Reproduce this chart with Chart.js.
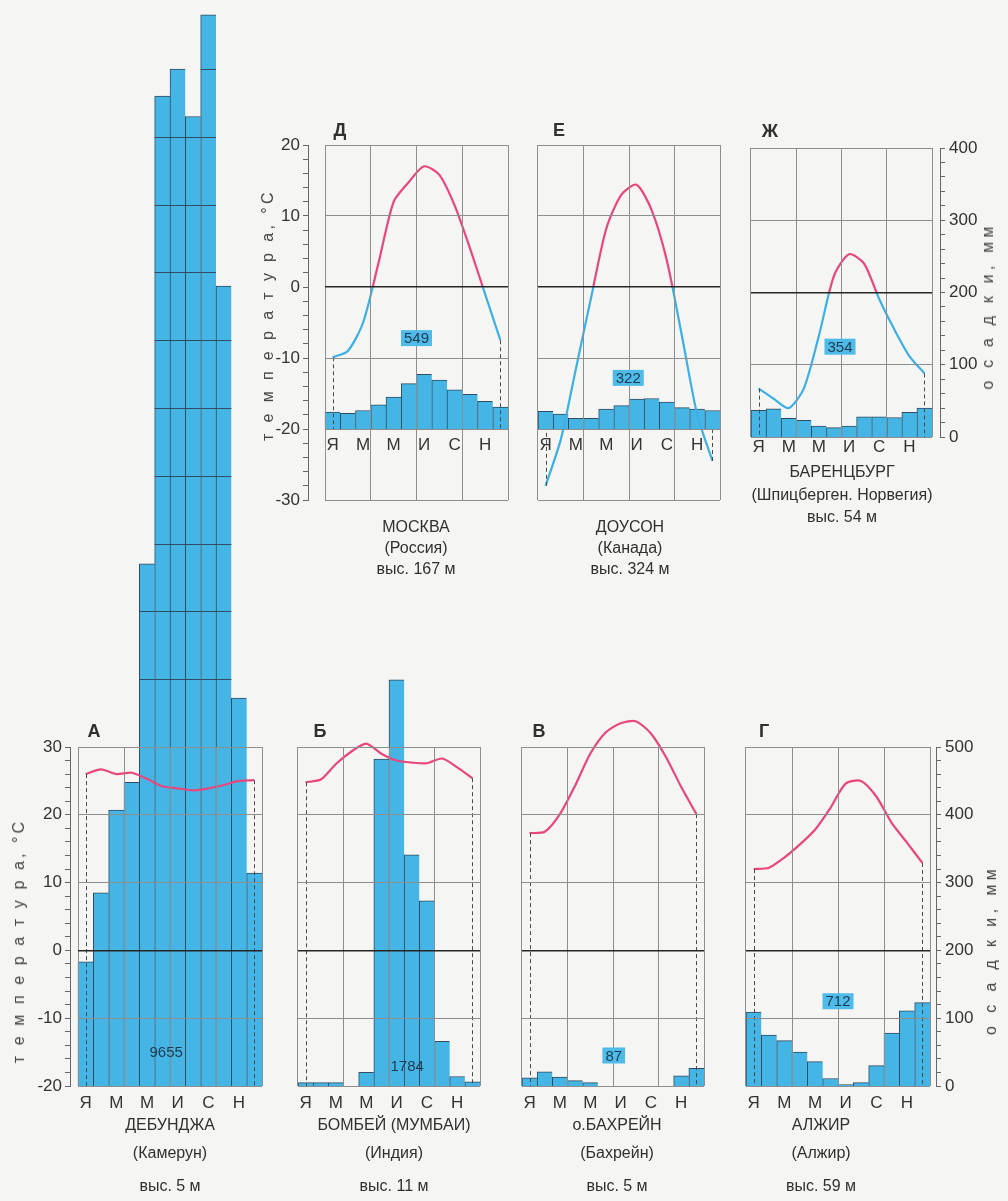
<!DOCTYPE html>
<html lang="ru">
<head>
<meta charset="utf-8">
<title>Климатограммы</title>
<script src="https://cdn.jsdelivr.net/npm/chart.js@4.4.1/dist/chart.umd.min.js"></script>
<style>
  html, body { margin: 0; padding: 0; }
  body { width: 1008px; height: 1201px; background: #f5f5f3; position: relative; overflow: hidden;
         font-family: "Liberation Sans", Arial, sans-serif; color: #303030; }
  canvas { position: absolute; }
  .txt { position: absolute; transform: translate(-50%, -50%); white-space: nowrap; font-size: 16px; line-height: 1; }
  .letter { font-weight: bold; font-size: 18px; }
  .vtitle { position: absolute; transform: translate(-50%, -50%) rotate(-90deg); white-space: nowrap;
            font-size: 16px; line-height: 1; color: #444; }
</style>
</head>
<body>
<script>
// months (only every other one is printed under the axis)
const months = ['Я', 'Ф', 'М', 'А', 'М', 'И', 'И', 'А', 'С', 'О', 'Н', 'Д'];

// mean monthly temperature, °C and precipitation, mm
const moscowTemp = [-9.9, -9.0, -5.0, 3.3, 12.0, 14.8, 17.0, 15.8, 11.5, 5.5, -1.0, -7.5];
const moscowPrecip = [24, 22, 26, 34, 45, 64, 77, 69, 55, 49, 39, 31];
const dawsonTemp = [-28, -21.5, -11.5, -1.5, 8.2, 13, 14.4, 10.8, 3.7, -7, -18, -24.5];
const dawsonPrecip = [25, 21, 15, 15, 28, 33, 42, 43, 38, 30, 28, 26];
const barentsburgTemp = [-13.3, -14.7, -16, -13.3, -6, 2.3, 5.3, 4.0, -0.9, -5.1, -8.8, -11.2];
const barentsburgPrecip = [37, 39, 26, 23, 15, 13, 15, 28, 28, 27, 34, 40];
const debundschaTemp = [26.0, 26.7, 26.0, 26.2, 25.3, 24.2, 23.9, 23.6, 23.9, 24.4, 25.0, 25.1];
const debundschaPrecip = [183, 285, 407, 448, 770, 1460, 1500, 1430, 1580, 1180, 572, 314];
const bombayTemp = [24.8, 25.2, 27.5, 29.3, 30.5, 29.0, 28.0, 27.7, 27.6, 28.3, 27.0, 25.4];
const bombayPrecip = [5, 5, 5, 0, 20, 482, 599, 341, 273, 66, 14, 6];
const bahrainTemp = [17.3, 17.5, 20.1, 24.3, 29.0, 32.1, 33.5, 33.8, 32.0, 28.5, 24.1, 20.1];
const bahrainPrecip = [12, 21, 13, 8, 5, 0, 0, 0, 0, 0, 15, 26];
const algiersTemp = [12.0, 12.2, 13.7, 15.6, 17.8, 21.0, 24.6, 25.0, 22.7, 18.8, 15.9, 12.9];
const algiersPrecip = [109, 75, 67, 50, 36, 11, 2, 5, 30, 78, 111, 123];

// yearly totals, mm
const totals = { moscow: '549', dawson: '322', barentsburg: '354', debundscha: '9655', bombay: '1784', bahrain: '87', algiers: '712' };

const gridColor = '#8e8e8e';
const zeroColor = '#262626';
const axisColor = '#666';
const textColor = '#333';
const barFill = '#45b5e5';
const barEdge = '#2e4d60';
const warm = '#e8467c';
const cold = '#3cb0e4';
const tickFont = { family: '"Liberation Sans", Arial, sans-serif', size: 17 };

const stations = [
  { key: 'moscow', letter: 'Д', temp: moscowTemp, precip: moscowPrecip, at: 5.5, t: -7.2, box: true,
    plot: { l: 325, t: 145, r: 508, b: 500 }, tMin: -30, tMax: 20, left: true, gap: 17, over: 15, labelPad: 6,
    caption: ['МОСКВА', '(Россия)', 'выс. 167 м'], capX: 416, capY: [527, 548, 569], letterPos: [340, 130] },
  { key: 'dawson', letter: 'Е', temp: dawsonTemp, precip: dawsonPrecip, at: 5.45, t: -12.8, box: true,
    plot: { l: 538, t: 145, r: 720, b: 500 }, tMin: -30, tMax: 20, over: 15, labelPad: 6,
    caption: ['ДОУСОН', '(Канада)', 'выс. 324 м'], capX: 630, capY: [527, 548, 569], letterPos: [559, 130] },
  { key: 'barentsburg', letter: 'Ж', temp: barentsburgTemp, precip: barentsburgPrecip, at: 5.4, t: -7.5, box: true,
    plot: { l: 751, t: 148, r: 932, b: 437 }, tMin: -20, tMax: 20, right: true, gap: 8, over: 15, labelPad: 0,
    caption: ['БАРЕНЦБУРГ', '(Шпицберген. Норвегия)', 'выс. 54 м'], capX: 842, capY: [472, 495, 517], letterPos: [770, 131] },
  { key: 'debundscha', letter: 'А', temp: debundschaTemp, precip: debundschaPrecip, at: 5.25, t: -15, box: false,
    plot: { l: 78, t: 747, r: 262, b: 1086 }, tMin: -20, tMax: 30, left: true, gap: 8, over: 747, labelPad: 7,
    caption: ['ДЕБУНДЖА', '(Камерун)', 'выс. 5 м'], capX: 170, capY: [1125, 1153, 1186], letterPos: [94, 731] },
  { key: 'bombay', letter: 'Б', temp: bombayTemp, precip: bombayPrecip, at: 6.7, t: -17.1, box: false,
    plot: { l: 298, t: 747, r: 480, b: 1086 }, tMin: -20, tMax: 30, over: 100, labelPad: 7,
    caption: ['БОМБЕЙ (МУМБАИ)', '(Индия)', 'выс. 11 м'], capX: 394, capY: [1125, 1153, 1186], letterPos: [320, 731] },
  { key: 'bahrain', letter: 'В', temp: bahrainTemp, precip: bahrainPrecip, at: 5.55, t: -15.5, box: true,
    plot: { l: 522, t: 747, r: 704, b: 1086 }, tMin: -20, tMax: 30, over: 100, labelPad: 7,
    caption: ['о.БАХРЕЙН', '(Бахрейн)', 'выс. 5 м'], capX: 617, capY: [1125, 1153, 1186], letterPos: [539, 731] },
  { key: 'algiers', letter: 'Г', temp: algiersTemp, precip: algiersPrecip, at: 5.5, t: -7.5, box: true,
    plot: { l: 746, t: 747, r: 930, b: 1086 }, tMin: -20, tMax: 30, right: true, gap: 6, over: 30, labelPad: 7,
    caption: ['АЛЖИР', '(Алжир)', 'выс. 59 м'], capX: 821, capY: [1125, 1153, 1186], letterPos: [764, 731] }
];

// red above 0 °C, blue below
function tempColor(ctx) {
  const chart = ctx.chart;
  const area = chart.chartArea;
  if (!area) return warm;
  const y0 = chart.scales.y.getPixelForValue(0);
  const g = chart.ctx.createLinearGradient(0, area.top, 0, area.bottom);
  const s = Math.min(Math.max((y0 - area.top) / (area.bottom - area.top), 0), 1);
  g.addColorStop(0, warm);
  g.addColorStop(s, warm);
  g.addColorStop(s, cold);
  g.addColorStop(1, cold);
  return g;
}

// dashed verticals under January and December
const edgeDashes = {
  id: 'edgeDashes',
  afterDatasetsDraw(chart) {
    const { ctx, scales } = chart;
    const temps = chart.data.datasets[1].data;
    ctx.save();
    ctx.strokeStyle = '#4a4a4a';
    ctx.lineWidth = 1;
    ctx.setLineDash([4, 3]);
    [0, temps.length - 1].forEach(i => {
      const x = Math.round(scales.x.getPixelForValue(i)) + 0.5;
      ctx.beginPath();
      ctx.moveTo(x, scales.y.getPixelForValue(temps[i]));
      ctx.lineTo(x, scales.yp.getPixelForValue(0));
      ctx.stroke();
    });
    ctx.restore();
  }
};

// 100 mm marks on bars that rise above the frame
const overflowLines = {
  id: 'overflowLines',
  afterDatasetsDraw(chart) {
    const { ctx, scales } = chart;
    const yp = scales.yp;
    const vals = chart.data.datasets[0].data;
    ctx.save();
    ctx.strokeStyle = barEdge;
    ctx.lineWidth = 1;
    chart.getDatasetMeta(0).data.forEach((bar, i) => {
      for (let v = yp.max + 100; v < vals[i]; v += 100) {
        const y = Math.round(yp.getPixelForValue(v)) + 0.5;
        ctx.beginPath();
        ctx.moveTo(bar.x - bar.width / 2, y);
        ctx.lineTo(bar.x + bar.width / 2, y);
        ctx.stroke();
      }
    });
    ctx.restore();
  }
};

const totalLabel = {
  id: 'totalLabel',
  afterDraw(chart, args, opts) {
    if (!opts.text) return;
    const { ctx, scales } = chart;
    const x = scales.x.getPixelForValue(opts.at);
    const y = scales.y.getPixelForValue(opts.t);
    ctx.save();
    ctx.font = '15px "Liberation Sans", Arial, sans-serif';
    const w = ctx.measureText(opts.text).width + 6;
    if (opts.box) {
      ctx.fillStyle = '#4fbbe8';
      ctx.fillRect(x - w / 2, y - 8, w, 16);
    }
    ctx.fillStyle = '#1e3a52';
    ctx.textAlign = 'center';
    ctx.textBaseline = 'middle';
    ctx.fillText(opts.text, x, y + 1);
    ctx.restore();
  }
};

function addText(cls, text, x, y) {
  const d = document.createElement('div');
  d.className = cls;
  d.textContent = text;
  d.style.left = x + 'px';
  d.style.top = y + 'px';
  document.body.appendChild(d);
  return d;
}

stations.forEach(st => {
  const p = st.plot;
  const gapL = st.left ? st.gap : 0;
  const gapR = st.right ? st.gap : 0;
  const tickL = st.left ? 40 : 0;
  const tickR = st.right ? 50 : 0;
  const pad = { left: 10, right: 10, top: st.over, bottom: 40 };
  const left = p.l - gapL - tickL - pad.left;
  const top = p.t - pad.top;
  const cv = document.createElement('canvas');
  cv.width = p.r + gapR + tickR + pad.right - left;
  cv.height = p.b + pad.bottom - top;
  cv.style.left = left + 'px';
  cv.style.top = top + 'px';
  document.body.appendChild(cv);

  // precipitation scale: 0 mm at -20 °C, 100 mm per 10 °C
  const pMin = (st.tMin + 20) * 10;
  const pMax = (st.tMax + 20) * 10;

  new Chart(cv, {
    type: 'bar',
    data: {
      labels: months,
      datasets: [
        { type: 'bar', data: st.precip, yAxisID: 'yp', backgroundColor: barFill, borderColor: barEdge,
          borderWidth: { top: 1, left: 1, right: 0, bottom: 0 }, borderSkipped: false,
          categoryPercentage: 1, barPercentage: 1, clip: false, order: 2 },
        { type: 'line', data: st.temp, yAxisID: 'y', borderColor: tempColor, borderWidth: 2.2,
          pointRadius: 0, tension: 0.25, clip: false, order: 1 }
      ]
    },
    options: {
      responsive: false,
      animation: false,
      events: [],
      layout: { padding: pad },
      plugins: {
        legend: { display: false },
        tooltip: { enabled: false },
        totalLabel: { text: totals[st.key], at: st.at, t: st.t, box: st.box }
      },
      scales: {
        x: {
          type: 'category',
          position: { y: -20 },
          offset: true,
          afterFit: s => { s.height = 0; },
          grid: { offset: true, z: 1, drawTicks: false, lineWidth: 1,
                  color: c => (c.index === undefined || c.index % 3 === 0) ? gridColor : 'rgba(0,0,0,0)' },
          border: { display: false },
          ticks: { autoSkip: false, maxRotation: 0, padding: st.labelPad, color: textColor, font: tickFont,
                   callback: (v, i) => (i % 2 === 0 ? months[i] : '') }
        },
        y: {
          type: 'linear', position: 'left', weight: 0, min: st.tMin, max: st.tMax,
          afterFit: s => { s.width = gapL; },
          ticks: { display: false, stepSize: 10 },
          grid: { z: 1, drawTicks: false,
                  color: c => (c.tick && c.tick.value === 0 ? zeroColor : gridColor),
                  lineWidth: c => (c.tick && c.tick.value === 0 ? 1.6 : 1) },
          border: { display: false }
        },
        yt: {
          display: !!st.left, axis: 'y', type: 'linear', position: 'left', weight: 1, min: st.tMin, max: st.tMax,
          afterFit: s => { if (st.left) s.width = tickL; },
          ticks: { stepSize: 2, autoSkip: false, padding: 3, color: textColor, font: tickFont,
                   callback: v => (v % 10 === 0 ? v : '') },
          grid: { drawOnChartArea: false, tickLength: 5, color: axisColor },
          border: { display: true, color: axisColor }
        },
        yp: { display: false, axis: 'y', type: 'linear', position: 'right', min: pMin, max: pMax },
        yps: {
          display: !!st.right, axis: 'y', type: 'linear', position: 'right', weight: 0, min: pMin, max: pMax,
          afterFit: s => { if (st.right) s.width = gapR; },
          ticks: { display: false }, grid: { display: false }, border: { display: false }
        },
        ypt: {
          display: !!st.right, axis: 'y', type: 'linear', position: 'right', weight: 1, min: pMin, max: pMax,
          afterFit: s => { if (st.right) s.width = tickR; },
          ticks: { stepSize: 20, autoSkip: false, padding: 4, color: textColor, font: tickFont,
                   callback: v => (v % 100 === 0 ? v : '') },
          grid: { drawOnChartArea: false, tickLength: 5, color: axisColor },
          border: { display: true, color: axisColor }
        }
      }
    },
    plugins: [edgeDashes, overflowLines, totalLabel]
  });

  addText('txt letter', st.letter, st.letterPos[0], st.letterPos[1]);
  st.caption.forEach((line, i) => addText('txt', line, st.capX, st.capY[i]));
});

// axis titles
const tempTitle = 'т е м п е р а т у р а, °С';
const precTitle = 'о с а д к и, мм';
addText('vtitle', tempTitle, 268, 315).style.letterSpacing = '3.4px';
addText('vtitle', tempTitle, 19, 941).style.letterSpacing = '3.1px';
addText('vtitle', precTitle, 988, 306).style.letterSpacing = '4.2px';
addText('vtitle', precTitle, 991, 950).style.letterSpacing = '4.4px';
</script>
</body>
</html>
